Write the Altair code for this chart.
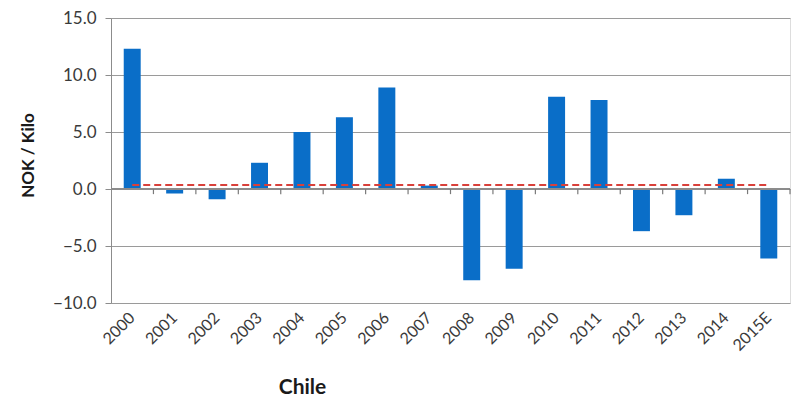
import altair as alt
import pandas as pd

years = ["2000", "2001", "2002", "2003", "2004", "2005", "2006", "2007",
         "2008", "2009", "2010", "2011", "2012", "2013", "2014", "2015E"]
values = [12.3, -0.4, -0.9, 2.3, 5.0, 6.3, 8.9, 0.3,
          -8.0, -7.0, 8.1, 7.8, -3.7, -2.3, 0.9, -6.1]
avg_line = [0.35] * len(years)

df = pd.DataFrame({"year": years, "value": values, "avg": avg_line})
FONT = "Lato"

xscale = alt.Scale(domain=years, paddingInner=0.6, paddingOuter=0.3)
tickscale = alt.Scale(domain=years, paddingInner=0, paddingOuter=0)
yscale = alt.Scale(domain=[-10, 15], nice=False)

x_enc = alt.X("year:N", scale=xscale, sort=years,
              axis=alt.Axis(title="Chile", labelAngle=-45, labelAlign="right",
                            labelBaseline="middle", labelPadding=12,
                            labelFontSize=16, labelColor="#3a3a3a", labelFont=FONT,
                            domain=False, ticks=False,
                            titleFont=FONT, titleFontSize=21, titleFontWeight="bold",
                            titleColor="#1a1a1a", titleX=191, titleY=84,
                            titleBaseline="middle", titleAnchor="start", titleAlign="center"))

bars = alt.Chart(df).mark_bar(color="#0a6ec8").encode(
    x=x_enc,
    y=alt.Y("value:Q", scale=yscale,
            axis=alt.Axis(title="NOK / Kilo", values=[-10, -5, 0, 5, 10, 15],
                          format=".1f", labelFontSize=17, labelColor="#3a3a3a",
                          labelFont=FONT, labelPadding=9,
                          domainColor="#8c8c8c", tickColor="#8c8c8c", tickSize=6,
                          gridColor="#9a9a9a", grid=True,
                          titleFont=FONT, titleFontSize=17, titleFontWeight="bold",
                          titleColor="#1a1a1a", titleX=-83, titleY=137,
                          titleBaseline="middle", titleAngle=-90)),
    y2=alt.datum(0),
)

zero = alt.Chart(df).mark_rule(color="#8c8c8c", strokeWidth=1.2).encode(
    y=alt.datum(0, scale=yscale),
)

ticks = alt.Chart(df).mark_rule(color="#7a7a7a", strokeWidth=1.2).encode(
    x=alt.X("year:N", scale=tickscale, sort=years, bandPosition=1, axis=None),
    y=alt.datum(0),
    y2=alt.datum(-0.45),
)

line = alt.Chart(df).mark_line(color="#d9403a", strokeWidth=2.2,
                               strokeDash=[7, 4]).encode(
    x=alt.X("year:N", scale=xscale, sort=years),
    y=alt.Y("avg:Q", scale=yscale),
)

main = alt.layer(bars, zero, line)

chart = alt.layer(main, ticks).resolve_scale(x="independent").properties(
    width=679, height=285,
    autosize=alt.AutoSizeParams(type="none"),
    padding={"left": 103, "top": 10, "right": 2, "bottom": 100},
).configure_view(stroke=None).configure(background="white")

chart.save("out.html", embed_options={"renderer": "svg", "actions": False})
